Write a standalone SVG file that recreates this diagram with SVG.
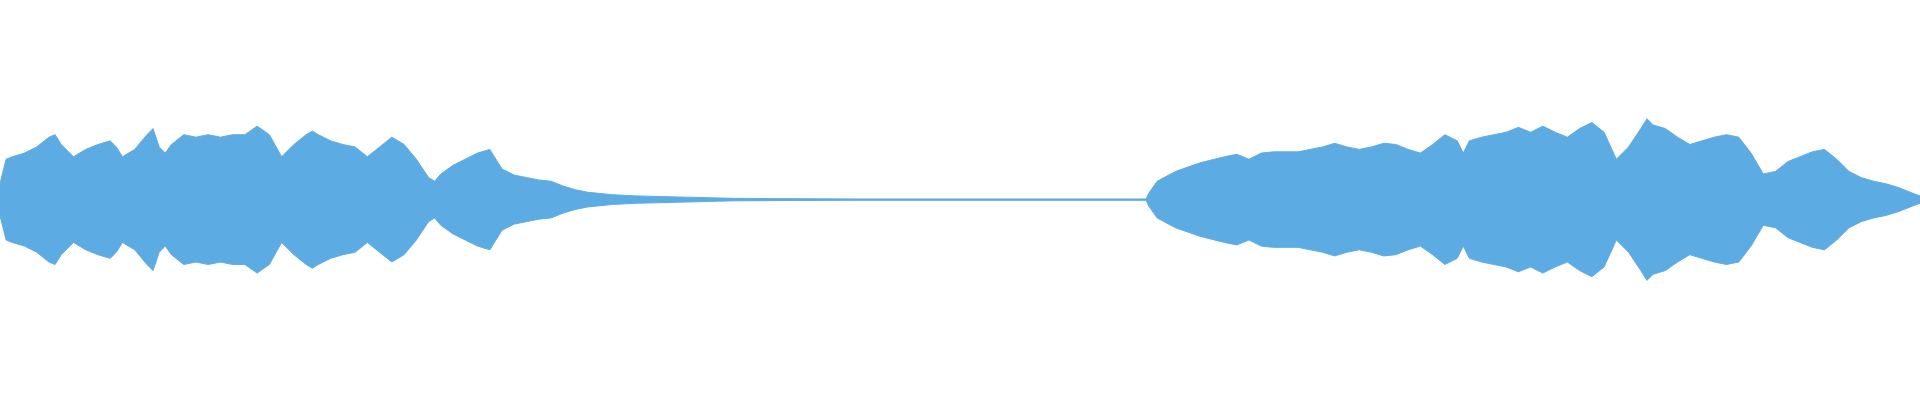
<svg xmlns="http://www.w3.org/2000/svg" width="1920" height="400" viewBox="0 0 1920 400">
<style>.w{fill:#5dabe3;stroke:#5dabe3;stroke-width:0.8}.c{stroke:#5dabe3;stroke-width:1}</style>
<rect width="1920" height="400" fill="#fff"/>
<g transform="scale(1.2245)">
<line class="c" x1="0" y1="163" x2="1568" y2="163"/>
<path class="w" d="M0,150 L5,130 L10,128 L20,125 L30,120 L40,112 L45,110 L50,118 L60,128 L70,122 L80,118 L90,115 L95,120 L100,128 L110,122 L120,110 L125,105 L130,120 L135,125 L140,118 L150,110 L160,112 L170,110 L180,112 L190,110 L200,110 L210,103 L220,110 L230,128 L240,118 L250,110 L255,107 L260,110 L270,115 L280,118 L290,120 L300,128 L310,120 L320,112 L330,118 L340,130 L350,145 L355,148 L360,142 L370,135 L380,130 L390,125 L400,122 L405,130 L410,138 L420,143 L430,145 L440,147 L450,148 L460,152 L470,155 L480,157 L500,159 L520,160 L560,161 L600,162 L700,162.5 L936,162.5 L938,158 L945,148 L960,140 L980,133 L1000,128 L1010,126 L1020,130 L1030,125 L1040,124 L1060,124 L1070,122 L1080,120 L1090,117 L1100,120 L1110,122 L1120,120 L1130,117 L1140,118 L1150,122 L1160,125 L1170,118 L1180,110 L1190,115 L1195,125 L1200,115 L1210,112 L1220,110 L1230,108 L1240,104 L1250,108 L1260,103 L1270,108 L1280,112 L1290,105 L1300,100 L1310,108 L1320,130 L1330,120 L1340,105 L1345,97 L1350,102 L1360,105 L1370,112 L1380,118 L1390,115 L1400,112 L1410,110 L1420,112 L1430,125 L1440,142 L1450,140 L1460,132 L1470,128 L1480,124 L1490,122 L1500,130 L1510,140 L1520,145 L1530,148 L1540,150 L1550,153 L1560,157 L1568,160 L1568,166 L1560,169 L1550,173 L1540,176 L1530,178 L1520,181 L1510,186 L1500,196 L1490,204 L1480,202 L1470,198 L1460,194 L1450,186 L1440,184 L1430,201 L1420,214 L1410,216 L1400,214 L1390,211 L1380,208 L1370,214 L1360,221 L1350,224 L1345,229 L1340,221 L1330,206 L1320,196 L1310,218 L1300,226 L1290,221 L1280,214 L1270,218 L1260,223 L1250,218 L1240,222 L1230,218 L1220,216 L1210,214 L1200,211 L1195,201 L1190,211 L1180,216 L1170,208 L1160,201 L1150,204 L1140,208 L1130,209 L1120,206 L1110,204 L1100,206 L1090,209 L1080,206 L1070,204 L1060,202 L1040,202 L1030,201 L1020,196 L1010,200 L1000,198 L980,193 L960,186 L945,178 L938,168 L936,163.5 L700,163.5 L600,164 L560,165 L520,166 L500,167 L480,169 L470,171 L460,174 L450,178 L440,179 L430,181 L420,183 L410,188 L405,196 L400,204 L390,201 L380,196 L370,191 L360,184 L355,178 L350,181 L340,196 L330,208 L320,214 L310,206 L300,198 L290,206 L280,208 L270,211 L260,216 L255,219 L250,216 L240,208 L230,198 L220,216 L210,223 L200,216 L190,216 L180,214 L170,216 L160,214 L150,216 L140,208 L135,201 L130,206 L125,221 L120,216 L110,204 L100,198 L95,206 L90,211 L80,208 L70,204 L60,198 L50,208 L45,216 L40,214 L30,206 L20,201 L10,198 L5,196 L0,176 Z"/>
</g>
</svg>
